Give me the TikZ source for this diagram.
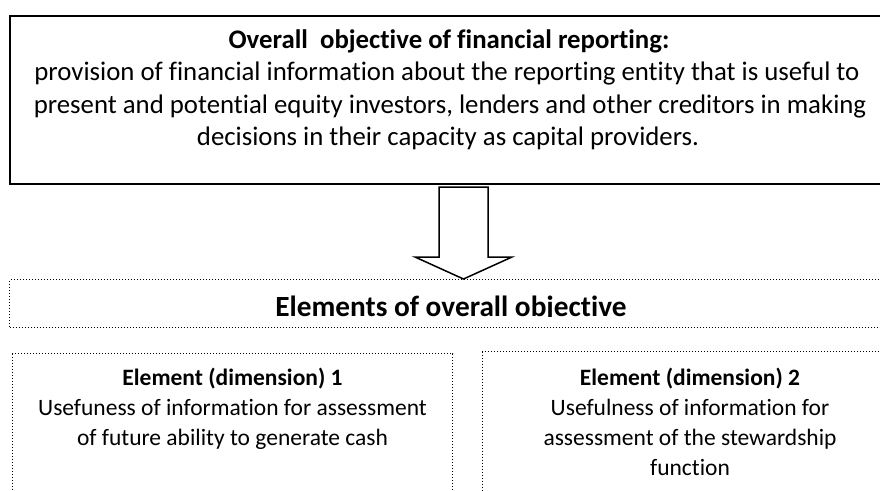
\documentclass[tikz,border=0pt]{standalone}
\usepackage{fontspec}
\setmainfont{Carlito}[Ligatures=NoCommon]
\begin{document}
\begin{tikzpicture}[x=1pt,y=-1pt,
  solidbox/.style={draw, line width=1.8pt, inner sep=0pt, anchor=north west},
  dotbox/.style={draw, line width=1.2pt, dash pattern=on 1.1pt off 1.9pt, inner sep=0pt, anchor=north west},
  toptext/.style={anchor=base, inner sep=0pt, font=\fontsize{26.8}{32}\selectfont},
  eltext/.style={anchor=base, inner sep=0pt, font=\fontsize{23.5}{28}\selectfont},
  headtext/.style={anchor=base, inner sep=0pt, font=\fontsize{29.3}{35}\selectfont\bfseries},
  blockarrow/.style={draw, line width=1.5pt, fill=white, line join=miter}]
\useasboundingbox (0,0) rectangle (880,490);
\clip (0,0) rectangle (880,490);
% top box
\node[solidbox, minimum width=1000pt, minimum height=168pt] (top) at (9,15) {};
\node[toptext] (t1) at (449,48) {\bfseries Overall\ \ objective of financial reporting:};
\node[toptext] (t2) at (447,80.5) {provision of financial information about the reporting entity that is useful to};
\node[toptext] (t3) at (450,113) {present and potential equity investors, lenders and other creditors in making};
\node[toptext] (t4) at (448,145.5) {decisions in their capacity as capital providers.};
% elements box
\node[dotbox, minimum width=1000pt, minimum height=48pt] (elem) at (9,279) {};
\begin{scope}
  \clip (9,279) rectangle (889,316.6);
  \node[headtext] (eh) at (451,316.5) {Elements of overall objective};
\end{scope}
% block arrow from top box to elements box
\coordinate (atop) at (463.5,187);
\coordinate (atip) at (463.5,279);
\draw[blockarrow] ([xshift=-24.5pt]atop) -- ([xshift=24.5pt]atop) -- ([xshift=24.5pt,yshift=-70pt]atop)
  -- ([xshift=48.5pt,yshift=-70pt]atop) -- (atip) -- ([xshift=-48.5pt,yshift=-70pt]atop)
  -- ([xshift=-24.5pt,yshift=-70pt]atop) -- cycle;
% element 1
\node[dotbox, minimum width=440pt, minimum height=200pt] (e1) at (12,353) {};
\node[eltext] (e1a) at (232.5,385) {\bfseries Element (dimension) 1};
\node[eltext] (e1b) at (232.5,415) {Usefuness of information for assessment};
\node[eltext] (e1c) at (232.5,445) {of future ability to generate cash};
% element 2
\node[dotbox, minimum width=500pt, minimum height=200pt] (e2) at (482,351) {};
\node[eltext] (e2a) at (690,385) {\bfseries Element (dimension) 2};
\node[eltext] (e2b) at (690,415) {Usefulness of information for};
\node[eltext] (e2c) at (690,445) {assessment of the stewardship};
\node[eltext] (e2d) at (690,475) {function};
\end{tikzpicture}
\end{document}
